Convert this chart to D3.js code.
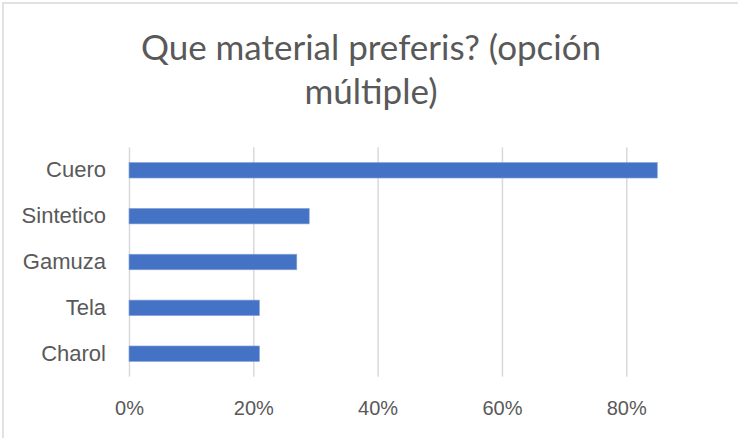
<!DOCTYPE html>
<html>
<head>
<meta charset="utf-8">
<script src="https://cdn.jsdelivr.net/npm/d3@7"></script>
<style>
  body { margin: 0; background: #fff; }
  svg { display: block; font-family: Lato, "Open Sans", sans-serif; }
</style>
</head>
<body>
<script>
// Chart data
var categories = ["Cuero", "Sintetico", "Gamuza", "Tela", "Charol"];
var values = [0.85, 0.29, 0.27, 0.21, 0.21];
var tickValues = [0, 0.2, 0.4, 0.6, 0.8];
var titleLines = ["Que material preferis? (opción", "múltiple)"];

var width = 738, height = 438;
var plot = { left: 129, right: 688.4, top: 147.3, bottom: 376.7 };

var svg = d3.select("body").append("svg")
    .attr("width", width)
    .attr("height", height);

// Chart border
svg.append("rect")
    .attr("x", 3).attr("y", 3)
    .attr("width", width).attr("height", height)
    .attr("fill", "#fff")
    .attr("stroke", "#d9d9d9")
    .attr("stroke-width", 1.5);

// Title
svg.append("g").selectAll("text")
    .data(titleLines)
    .enter().append("text")
    .attr("x", 371)
    .attr("y", function(d, i) { return 60 + i * 44; })
    .attr("text-anchor", "middle")
    .attr("fill", "#595959")
    .style("font-size", "35px")
    .text(function(d) { return d; });

var data = categories.map(function(c, i) { return { name: c, value: values[i] }; });

var x = d3.scaleLinear()
    .domain([0, 0.9])
    .range([plot.left, plot.right]);

var y = d3.scaleBand()
    .domain(categories)
    .range([plot.top, plot.bottom])
    .paddingInner(0.66)
    .paddingOuter(0.33);

// Gridlines + x tick labels
var xAxis = svg.append("g")
    .attr("transform", "translate(0," + plot.bottom + ")")
    .call(d3.axisBottom(x)
      .tickValues(tickValues)
      .tickSize(-(plot.bottom - plot.top))
      .tickPadding(0)
      .tickFormat(d3.format(".0%")));
xAxis.select(".domain").remove();
xAxis.selectAll("line")
    .attr("stroke", "#d9d9d9")
    .attr("stroke-width", 1.5);
xAxis.selectAll("text")
    .attr("y", 38)
    .attr("dy", null)
    .attr("fill", "#595959")
    .style("font-size", "20px");

// Category labels
var yAxis = svg.append("g")
    .attr("transform", "translate(106,0)")
    .call(d3.axisLeft(y).tickSize(0).tickPadding(0));
yAxis.select(".domain").remove();
yAxis.selectAll("text")
    .attr("fill", "#595959")
    .style("font-size", "22px");

// Bars
svg.append("g").selectAll("rect")
    .data(data)
    .enter().append("rect")
    .attr("x", x(0))
    .attr("y", function(d) { return y(d.name); })
    .attr("width", function(d) { return x(d.value) - x(0); })
    .attr("height", y.bandwidth())
    .attr("fill", "#4472c4")
    .attr("stroke", "#8faadc")
    .attr("stroke-width", 0.6);
</script>
</body>
</html>
